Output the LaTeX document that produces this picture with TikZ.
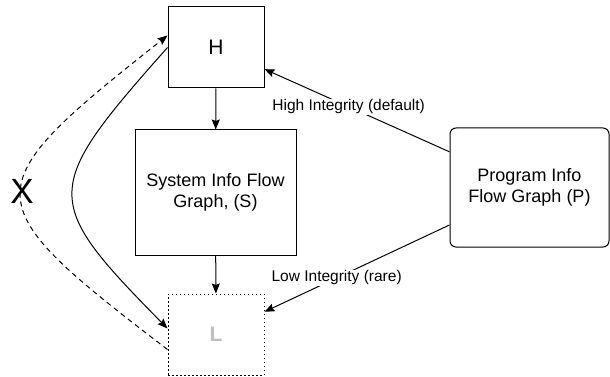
\documentclass[tikz,border=0pt]{standalone}
\usepackage{fontspec}
\setmainfont{Liberation Sans}
\usetikzlibrary{
    arrows.meta,
    positioning
}

\tikzset{
    flowbox/.style={draw, line width=1pt, align=center,
        font=\fontsize{18}{21}\selectfont},
    levelbox/.style={flowbox, minimum width=96pt, minimum height=81pt,
        font=\fontsize{21}{24}\selectfont},
    edgelabel/.style={fill=white, inner sep=1pt,
        font=\fontsize{15.5}{18}\selectfont}
}

\begin{document}
\begin{tikzpicture} [x=1pt, y=-1pt, line width=1pt,
    >={Stealth[length=10pt, width=8pt, inset=1.5pt]}]
    \useasboundingbox (0,0) rectangle (610,377);

    % levels and graphs
    \node[levelbox] (H) at (216,47.5) {H};
    \node[flowbox, minimum width=161pt, minimum height=125pt] (S) at (215.5,192.5)
        {System Info Flow\\Graph, (S)};
    \node[levelbox, dotted, dash pattern=on 1.5pt off 2.5pt, text=black!25,
        font=\fontsize{21}{24}\selectfont\bfseries] (L) at (216,334.5) {L};
    \node[flowbox, rounded corners=6pt, minimum width=159pt, minimum height=119pt] (P)
        at (529.5,187.5) {Program Info\\Flow Graph (P)};

    % flows
    \draw[->] (H) -- (S);
    \draw[->] (S) -- (L);
    \draw[->] (P) -- node[edgelabel, pos=0.545] {High Integrity (default)} (H);
    \draw[->] (P) -- node[edgelabel, pos=0.61] {Low Integrity (rare)} (L);

    \draw[->] (H.west) .. controls (41,190) and (41,200) .. ([yshift=6pt]L.west);
    \draw[->, dashed, dash pattern=on 5pt off 4pt] ([yshift=-15pt]L.west)
        .. controls (-28,200) and (-28,190) .. ([yshift=12pt]H.west);
    \node[font=\fontsize{35}{40}\selectfont] (X) at (22,191) {X};
\end{tikzpicture}
\end{document}
